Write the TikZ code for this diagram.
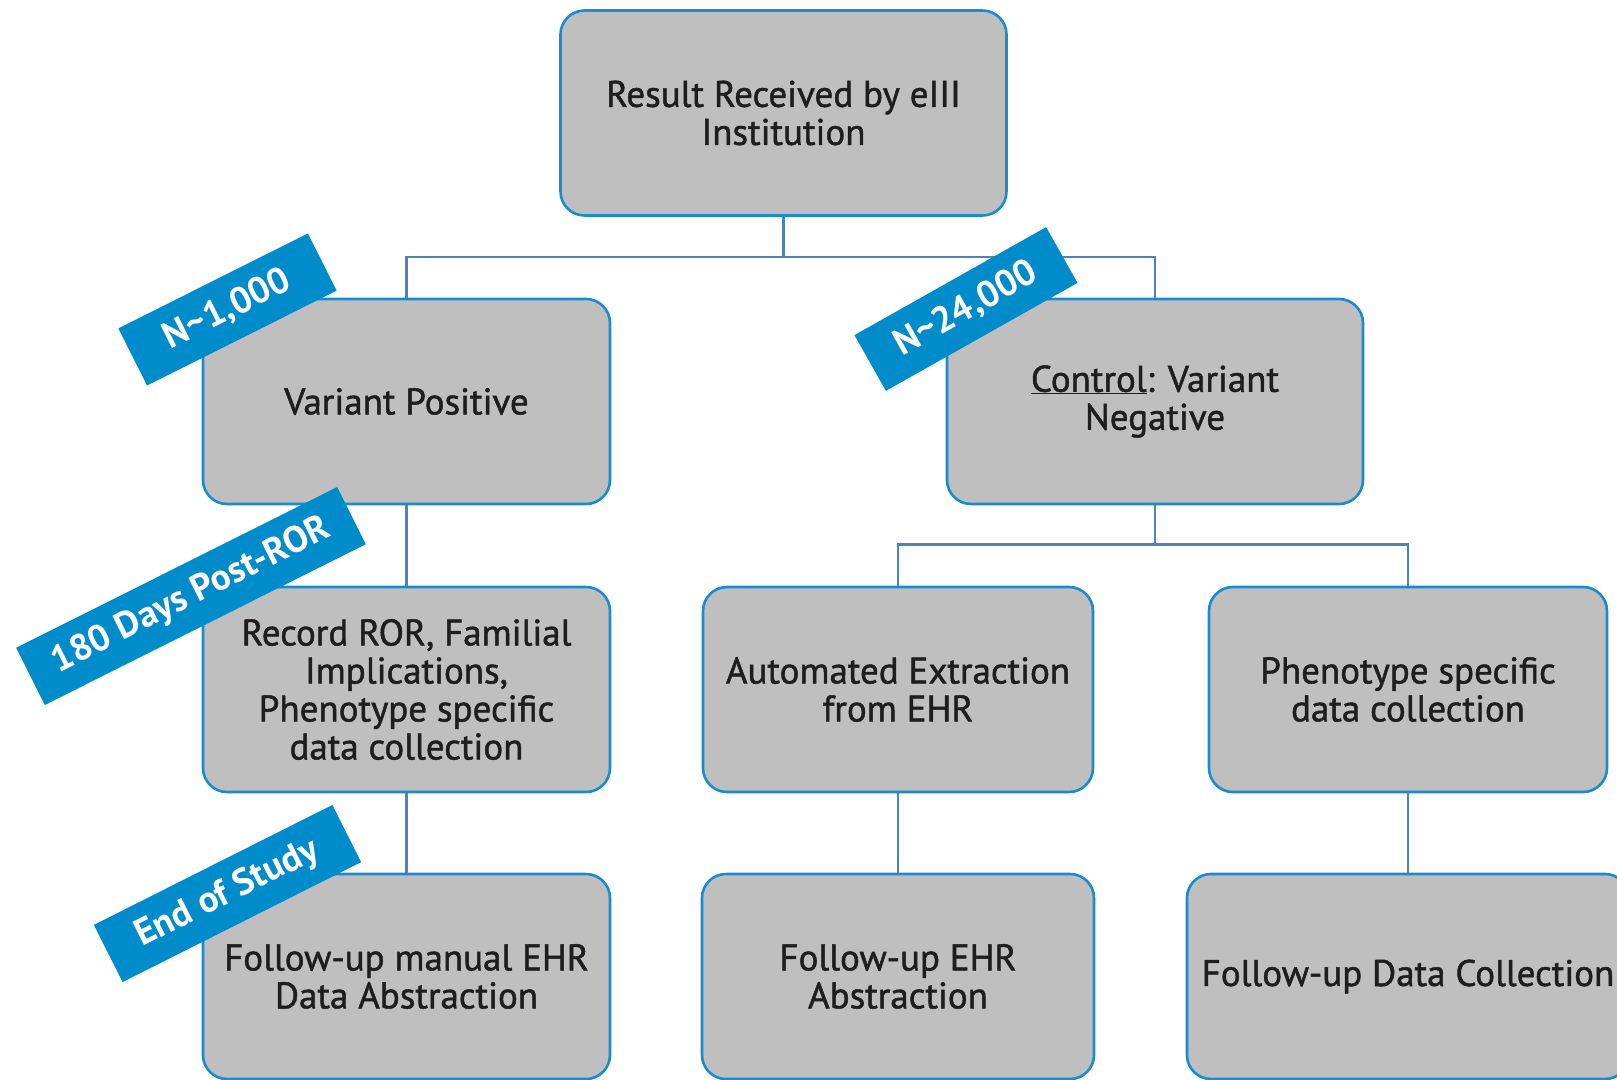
\documentclass[tikz,border=0pt]{standalone}
\usepackage{fontspec}
\setmainfont{PT Sans}
\newfontfamily\boxfont{PT Sans}[FakeBold=1.3]
\definecolor{boxfill}{HTML}{BFBFBF}
\definecolor{boxline}{HTML}{1A8CCD}
\definecolor{tagblue}{HTML}{008BCB}
\definecolor{linkblue}{HTML}{4F81BD}
\definecolor{ink}{HTML}{1E1E1E}
\begin{document}
\begin{tikzpicture}[x=1pt,y=-1pt,
  stage/.style={draw=boxline, line width=2.6pt, fill=boxfill, rounded corners=24pt,
    minimum height=205pt, align=center, text=ink, inner sep=0pt,
    font=\boxfont\fontsize{37}{38}\selectfont},
  tag/.style={fill=tagblue, text=white, minimum height=64pt, inner sep=0pt,
    font=\bfseries\fontsize{37}{38}\selectfont},
  link/.style={draw=linkblue, line width=2.4pt}]
\useasboundingbox (0,0) rectangle (1617,1079);
\clip (0,0) rectangle (1617,1079);

% process boxes
\node[stage, minimum width=446pt] (top) at (783.5,113) {Result Received by eIII\\Institution};
\node[stage, minimum width=407pt] (vp) at (406.5,401.5) {Variant Positive};
\node[stage, minimum width=416pt] (ctrl) at (1155,401.5) {\underline{Control}: Variant\\Negative};
\node[stage, minimum width=407pt] (rec) at (406.5,689.5) {Record ROR, Familial\\Implications,\\Phenotype specific\\data collection};
\node[stage, minimum width=390pt] (auto) at (898,689.5) {Automated Extraction\\from EHR};
\node[stage, minimum width=398pt] (pheno) at (1408,689.5) {Phenotype specific\\data collection};
\node[stage, minimum width=407pt] (fman) at (406.5,976.5) {Follow-up manual EHR\\Data Abstraction};
\node[stage, minimum width=392pt] (fehr) at (898,976.5) {Follow-up EHR\\Abstraction};
\node[stage, minimum width=442pt] (fdc) at (1408,976.5) {Follow-up Data Collection};

% junction points of the tree connectors
\coordinate (j1) at (783.5,257);
\coordinate (j2) at (1155,544.5);

% connectors
\draw[link] (top.south) -- (j1);
\draw[link] (vp.north) |- (j1) -| (ctrl.north);
\draw[link] (ctrl.south) -- (j2);
\draw[link] (auto.north) |- (j2) -| (pheno.north);
\draw[link] (vp.south) -- (rec.north);
\draw[link] (rec.south) -- (fman.north);
\draw[link] (auto.south) -- (fehr.north);
\draw[link] (pheno.south) -- (fdc.north);

% slanted milestone tags
\node[tag, rotate=26.6, minimum width=212pt] (t1) at (227.5,309.5) {N\textasciitilde 1,000};
\node[tag, rotate=29.4, minimum width=220pt] (t2) at (966,309) {N\textasciitilde 24,000};
\node[tag, rotate=26.6, minimum width=359pt] (t3) at (191,596) {180 Days Post-ROR};
\node[tag, rotate=26.7, minimum width=267pt] (t4) at (227.5,893.5) {End of Study};
\end{tikzpicture}
\end{document}
